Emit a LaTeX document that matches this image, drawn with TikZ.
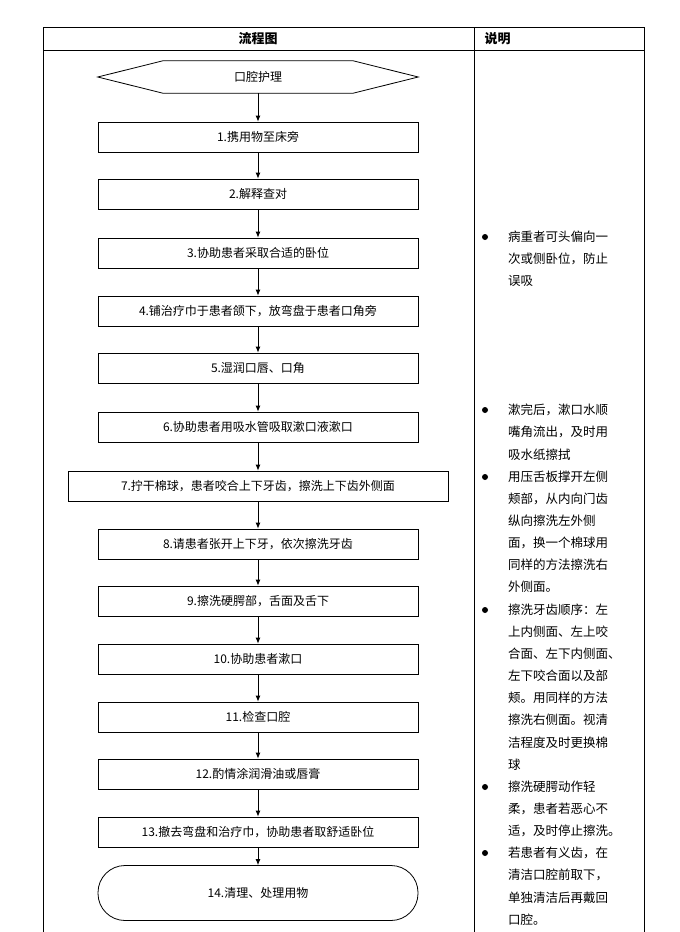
\documentclass[tikz,border=0pt]{standalone}
\usepackage{fontspec}
\setmainfont{Noto Sans CJK SC}
\usetikzlibrary{shapes.geometric,arrows.meta}
\begin{document}
\begin{tikzpicture}[x=1pt,y=-1pt,
  box/.style={draw,thick,minimum width=320pt,minimum height=30pt,inner sep=0pt,font=\fontsize{12}{14}\selectfont},
  arr/.style={-{Latex[length=6pt,width=5pt]},thick},
  nt/.style={anchor=west,inner sep=0pt,font=\fontsize{12.5}{14}\selectfont},
  bul/.style={circle,fill,inner sep=0pt,minimum size=6pt}]
\useasboundingbox (0,0) rectangle (680,932);
\draw[thin] (43,932) -- (43,27) -- (644,27) -- (644,932);
\draw[thin] (43,50) -- (644,50);
\draw[thin] (474,27) -- (474,932);
\node[font=\bfseries\fontsize{13}{14}\selectfont] (h1) at (258,38.5) {流程图};
\node[font=\bfseries\fontsize{13}{14}\selectfont,anchor=west] (h2) at (481,38.5) {说明};
\node[minimum width=320pt,minimum height=32pt,inner sep=0pt,font=\fontsize{12}{14}\selectfont] (s0) at (258,77) {口腔护理};
\draw[thick] (s0.west) -- ([xshift=65pt]s0.north west) -- ([xshift=-65pt]s0.north east) -- (s0.east)
  -- ([xshift=-65pt]s0.south east) -- ([xshift=65pt]s0.south west) -- cycle;
\node[box] (s1) at (258,137) {1.携用物至床旁};
\node[box] (s2) at (258,194) {2.解释查对};
\node[box] (s3) at (258,253) {3.协助患者采取合适的卧位};
\node[box] (s4) at (258,311) {4.铺治疗巾于患者颌下，放弯盘于患者口角旁};
\node[box] (s5) at (258,368) {5.湿润口唇、口角};
\node[box] (s6) at (258,427) {6.协助患者用吸水管吸取漱口液漱口};
\node[box,minimum width=380pt] (s7) at (258,486) {7.拧干棉球，患者咬合上下牙齿，擦洗上下齿外侧面};
\node[box] (s8) at (258,544) {8.请患者张开上下牙，依次擦洗牙齿};
\node[box] (s9) at (258,601) {9.擦洗硬腭部，舌面及舌下};
\node[box] (s10) at (258,659) {10.协助患者漱口};
\node[box] (s11) at (258,717) {11.检查口腔};
\node[box] (s12) at (258,774) {12.酌情涂润滑油或唇膏};
\node[box] (s13) at (258,832) {13.撤去弯盘和治疗巾，协助患者取舒适卧位};
\node[box,rounded corners=27pt,minimum height=55pt] (s14) at (258,893) {14.清理、处理用物};
\foreach \a/\b in {s0/s1,s1/s2,s2/s3,s3/s4,s4/s5,s5/s6,s6/s7,s7/s8,s8/s9,s9/s10,s10/s11,s11/s12,s12/s13,s13/s14}
  \draw[arr] (\a) -- (\b);
\node[bul] (b1) at (485,237) {};
\node[bul] (b2) at (485,410) {};
\node[bul] (b3) at (485,477) {};
\node[bul] (b4) at (485,610) {};
\node[bul] (b5) at (485,787) {};
\node[bul] (b6) at (485,853) {};
\foreach \t [count=\i from 0] in {病重者可头偏向一,次或侧卧位，防止,误吸}
  \node[nt] (na\i) at (508,237+22*\i) {\t};
\foreach \t [count=\i from 0] in {漱完后，漱口水顺,嘴角流出，及时用,吸水纸擦拭,用压舌板撑开左侧,颊部，从内向门齿,纵向擦洗左外侧,面，换一个棉球用,同样的方法擦洗右,外侧面。,擦洗牙齿顺序：左,上内侧面、左上咬,合面、左下内侧面、,左下咬合面以及部,颊。用同样的方法,擦洗右侧面。视清,洁程度及时更换棉,球,擦洗硬腭动作轻,柔，患者若恶心不,适，及时停止擦洗。,若患者有义齿，在,清洁口腔前取下，,单独清洁后再戴回,口腔。}
  \node[nt] (nb\i) at (508,410+22.15*\i) {\t};
\end{tikzpicture}
\end{document}
